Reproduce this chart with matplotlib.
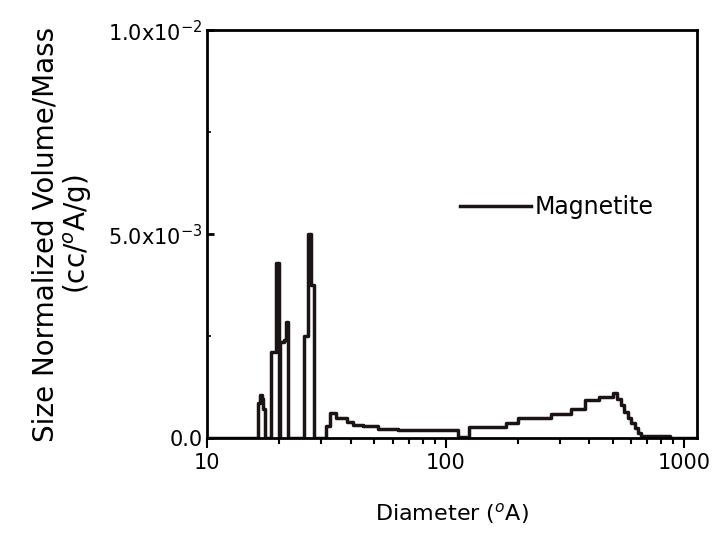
import matplotlib
matplotlib.use("Agg")
import matplotlib.pyplot as plt
from matplotlib.ticker import FixedLocator, NullFormatter

# step profile (diameter in A, size normalized volume in cc/A/g)
diameter = [10, 16.3, 16.6, 16.9, 17.2, 17.5, 18.6, 19.4, 20.0, 20.2, 21.0, 21.3,
            21.9, 25.5, 26.4, 27.2, 28.0, 31.6, 32.6, 34.5, 38.5, 41, 45, 52, 63,
            113, 125, 178, 200, 276, 336, 384, 440, 500, 520, 540, 560, 580, 600,
            620, 640, 655, 870, 1130]
volume = [0, 0.85e-3, 1.05e-3, 0.95e-3, 0.7e-3, 0, 2.1e-3, 4.3e-3, 0, 2.35e-3, 2.4e-3,
          2.85e-3, 0, 2.5e-3, 5.0e-3, 3.75e-3, 0, 0.3e-3, 0.61e-3, 0.49e-3, 0.4e-3,
          0.33e-3, 0.3e-3, 0.22e-3, 0.2e-3, 0.03e-3, 0.27e-3, 0.37e-3, 0.48e-3,
          0.58e-3, 0.7e-3, 0.93e-3, 1.0e-3, 1.1e-3, 0.95e-3, 0.8e-3, 0.65e-3,
          0.5e-3, 0.38e-3, 0.25e-3, 0.12e-3, 0.05e-3, 0, 0]

yticks = [0, 5e-3, 1e-2]
ytick_labels = ["0.0", "5.0x10$^{-3}$", "1.0x10$^{-2}$"]
xticks = [10, 100, 1000]
xtick_labels = ["10", "100", "1000"]

plt.rcParams['font.family'] = ['DejaVu Sans']

fig = plt.figure(figsize=(7.12, 5.5), dpi=100)
ax = fig.add_axes([0.291, 0.2036, 0.688, 0.7414])

ax.plot(diameter, volume, drawstyle='steps-post', color='#1a1414', lw=2.5,
        label='Magnetite')

ax.set_xscale('log')
ax.set_xlim(10, 1130)
ax.set_ylim(0, 1e-2)
ax.set_xticks(xticks)
ax.set_xticklabels(xtick_labels)
ax.set_yticks(yticks)
ax.set_yticklabels(ytick_labels)
ax.yaxis.set_minor_locator(FixedLocator([2.5e-3, 7.5e-3]))
ax.xaxis.set_minor_formatter(NullFormatter())

ax.tick_params(axis='x', which='major', direction='out', length=7, width=1.5,
               labelsize=15, pad=4)
ax.tick_params(axis='x', which='minor', direction='out', length=4, width=1.5)
ax.tick_params(axis='y', which='major', direction='in', length=5, width=2,
               labelsize=15)
ax.tick_params(axis='y', which='minor', direction='in', length=3, width=1.2)
for s in ax.spines.values():
    s.set_linewidth(2)

ax.set_xlabel('Diameter ($^{o}$A)', fontsize=16, labelpad=20)
ax.set_ylabel('Size Normalized Volume/Mass\n(cc/$^{o}$A/g)', fontsize=20,
              labelpad=10, linespacing=1.1)

ax.legend(loc='center right', bbox_to_anchor=(0.955, 0.566), frameon=False,
          fontsize=17, handlelength=3.0, handletextpad=0.15)

fig.savefig('out.png', dpi=100)
